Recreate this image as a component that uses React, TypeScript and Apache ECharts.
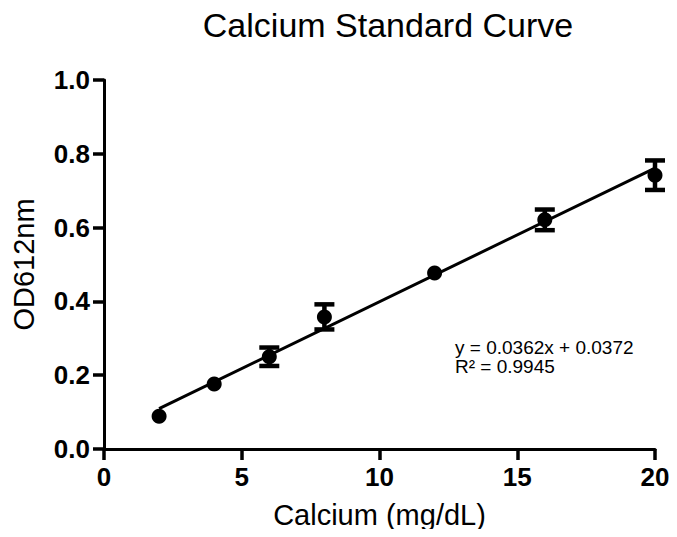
import React, { useEffect, useRef } from "react";
import * as echarts from "echarts";

// Calcium standards (mg/dL) with mean OD612 readings and standard deviations
const calcium = [2, 4, 6, 8, 12, 16, 20];
const odMean = [0.089, 0.176, 0.25, 0.358, 0.477, 0.621, 0.742];
const odSd = [0.0, 0.0, 0.025, 0.034, 0.0, 0.028, 0.04];

// Linear regression reported on the chart
const slope = 0.0362;
const intercept = 0.0372;
const rSquared = 0.9945;

const xTicks = [0, 5, 10, 15, 20];
const yTicks = [0, 0.2, 0.4, 0.6, 0.8, 1.0];

const FONT = "Liberation Sans, Arial, sans-serif";

export default function App() {
  const ref = useRef<HTMLDivElement>(null);

  useEffect(() => {
    if (!ref.current) return;
    const chart = echarts.init(ref.current, undefined, { renderer: "svg" });

    const points = calcium.map((x, i) => [x, odMean[i]]);
    const bars = calcium.map((x, i) => [x, odMean[i] - odSd[i], odMean[i] + odSd[i]]);
    const xFirst = calcium[0];
    const xLast = calcium[calcium.length - 1];
    const fitLine = [
      [xFirst, slope * xFirst + intercept],
      [xLast, slope * xLast + intercept],
    ];

    const eqStyle = { fontFamily: FONT, fontSize: 19, fill: "#000" };
    const tick = { show: true, inside: false, length: 11, lineStyle: { color: "#000", width: 3.5 } };

    chart.setOption({
      animation: false,
      backgroundColor: "#ffffff",
      title: {
        text: "Calcium Standard Curve",
        left: 383,
        textAlign: "center",
        top: 3,
        textStyle: { fontFamily: FONT, fontSize: 34, fontWeight: "normal", color: "#000" },
      },
      grid: { left: 104, right: 22, top: 80, bottom: 88, containLabel: false },
      xAxis: {
        type: "value",
        min: xTicks[0],
        max: xTicks[xTicks.length - 1],
        interval: 5,
        name: "Calcium (mg/dL)",
        nameLocation: "middle",
        nameGap: 51,
        nameTextStyle: { fontFamily: FONT, fontSize: 29, color: "#000" },
        axisLine: { show: true, onZero: false, lineStyle: { color: "#000", width: 3 } },
        axisTick: tick,
        axisLabel: { fontFamily: FONT, fontSize: 26, fontWeight: "bold", color: "#000", margin: 15 },
        splitLine: { show: false },
      },
      yAxis: {
        type: "value",
        min: yTicks[0],
        max: yTicks[yTicks.length - 1],
        interval: 0.2,
        name: "OD612nm",
        nameLocation: "middle",
        nameGap: 66,
        nameTextStyle: { fontFamily: FONT, fontSize: 29, color: "#000" },
        axisLine: { show: true, onZero: false, lineStyle: { color: "#000", width: 3 } },
        axisTick: tick,
        axisLabel: {
          fontFamily: FONT,
          fontSize: 26,
          fontWeight: "bold",
          color: "#000",
          margin: 14,
          formatter: (v: number) => v.toFixed(1),
        },
        splitLine: { show: false },
      },
      series: [
        {
          type: "line",
          data: fitLine,
          symbol: "none",
          lineStyle: { color: "#000", width: 3 },
          z: 2,
        },
        {
          type: "custom",
          data: bars,
          z: 3,
          renderItem: (params: any, api: any) => {
            const x = api.value(0);
            const lo = api.coord([x, api.value(1)]);
            const hi = api.coord([x, api.value(2)]);
            if (Math.abs(hi[1] - lo[1]) < 1) return { type: "group", children: [] };
            const half = 10;
            const style = { stroke: "#000", lineWidth: 4.5 };
            return {
              type: "group",
              children: [
                { type: "line", shape: { x1: lo[0], y1: lo[1], x2: hi[0], y2: hi[1] }, style },
                { type: "line", shape: { x1: hi[0] - half, y1: hi[1], x2: hi[0] + half, y2: hi[1] }, style },
                { type: "line", shape: { x1: lo[0] - half, y1: lo[1], x2: lo[0] + half, y2: lo[1] }, style },
              ],
            };
          },
        },
        {
          type: "scatter",
          data: points,
          symbol: "circle",
          symbolSize: 15,
          itemStyle: { color: "#000", opacity: 1 },
          z: 4,
        },
      ],
      graphic: [
        { type: "text", left: 455, top: 338, style: { ...eqStyle, text: `y = ${slope}x + ${intercept}` } },
        { type: "text", left: 455, top: 357, style: { ...eqStyle, text: `R² = ${rSquared}` } },
      ],
    });

    return () => chart.dispose();
  }, []);

  return <div ref={ref} style={{ width: 677, height: 537, margin: -8 }} />;
}
